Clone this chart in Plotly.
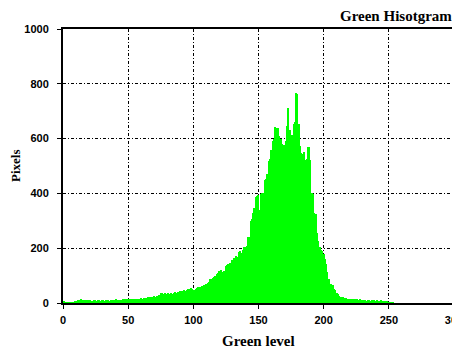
import plotly.graph_objects as go

levels = list(range(256))
pixels = [
    4, 5, 2, 1, 2, 1, 2, 1, 3, 7, 6, 8, 12, 11, 13, 10,
    11, 9, 10, 11, 9, 10, 8, 9, 11, 10, 9, 10, 12, 9, 11, 10,
    9, 12, 10, 11, 9, 10, 12, 11, 10, 13, 11, 10, 12, 11, 13, 12,
    14, 13, 12, 14, 13, 15, 14, 13, 15, 14, 16, 15, 17, 16, 18, 20,
    19, 21, 22, 20, 23, 22, 24, 23, 25, 24, 28, 35, 37, 33, 36, 32,
    34, 35, 33, 36, 34, 38, 40, 37, 41, 39, 43, 45, 42, 46, 44, 48,
    52, 50, 54, 51, 47, 49, 52, 55, 57, 59, 58, 62, 66, 64, 70, 72,
    75, 88, 86, 92, 95, 98, 106, 108, 118, 121, 112, 114, 116, 136, 139, 142,
    146, 144, 158, 163, 166, 170, 168, 185, 188, 184, 195, 205, 203, 208, 242, 240,
    300, 305, 330, 346, 388, 392, 396, 340, 398, 402, 400, 448, 452, 470, 520, 525,
    558, 592, 598, 642, 638, 640, 610, 600, 582, 545, 578, 590, 645, 712, 630, 608,
    612, 655, 660, 766, 762, 655, 572, 548, 545, 550, 521, 525, 570, 568, 522, 400,
    398, 330, 325, 255, 228, 205, 192, 190, 180, 162, 144, 113, 89, 71, 70, 65,
    50, 48, 36, 33, 24, 22, 21, 23, 20, 17, 15, 16, 14, 15, 13, 16,
    14, 15, 13, 12, 14, 12, 11, 10, 12, 9, 10, 11, 9, 10, 8, 11,
    9, 10, 8, 9, 10, 7, 8, 6, 5, 4, 3, 2, 1, 1, 0, 0,
]
x_ticks = [0, 50, 100, 150, 200, 250, 300]
y_ticks = [0, 200, 400, 600, 800, 1000]

title_text = "Green Hisotgram"
x_title = "Green level"
y_title = "Pixels"

fig = go.Figure(
    go.Bar(
        x=levels,
        y=pixels,
        width=1,
        marker=dict(color="#00ff00", line=dict(width=0)),
    )
)

serif = "Liberation Serif, Times New Roman, serif"
sans = "Liberation Sans, Arial, sans-serif"

axis_common = dict(
    showgrid=True,
    gridcolor="black",
    griddash="3px,2px,1px,2px",
    gridwidth=1,
    showline=True,
    linecolor="black",
    linewidth=2,
    mirror=True,
    ticks="outside",
    ticklen=4,
    tickcolor="black",
    tickfont=dict(family=sans, size=11, color="black", weight="bold"),
    ticklabeloverflow="allow",
    automargin=False,
    zeroline=False,
)

# The page body has an 8px default margin, so the figure is sized to fit.
fig.update_layout(
    width=452,
    height=341,
    margin=dict(l=55, r=6, t=21, b=46, autoexpand=False),
    paper_bgcolor="white",
    plot_bgcolor="white",
    bargap=0,
    showlegend=False,
    xaxis=dict(
        range=[0, 300],
        tickvals=x_ticks,
        ticktext=[str(v) for v in x_ticks],
        ticklabelstandoff=2,
        **axis_common,
    ),
    yaxis=dict(
        range=[0, 1000],
        tickvals=y_ticks,
        ticktext=[str(v) for v in y_ticks],
        ticklabelstandoff=6,
        **axis_common,
    ),
    annotations=[
        dict(
            text=f"<b>{title_text}</b>", xref="paper", yref="paper",
            x=1.0, y=1.0, xanchor="right", yanchor="bottom", yshift=3,
            showarrow=False, font=dict(family=serif, size=15, color="black"),
        ),
        dict(
            text=f"<b>{x_title}</b>", xref="paper", yref="paper",
            x=0.5, y=0, xanchor="center", yanchor="middle", yshift=-38,
            showarrow=False, font=dict(family=serif, size=15, color="black"),
        ),
        dict(
            text=f"<b>{y_title}</b>", xref="paper", yref="paper",
            x=0, y=0.5, xanchor="center", yanchor="middle", xshift=-48,
            textangle=-90,
            showarrow=False, font=dict(family=serif, size=13, color="black"),
        ),
    ],
)

fig.write_html("out.html")
